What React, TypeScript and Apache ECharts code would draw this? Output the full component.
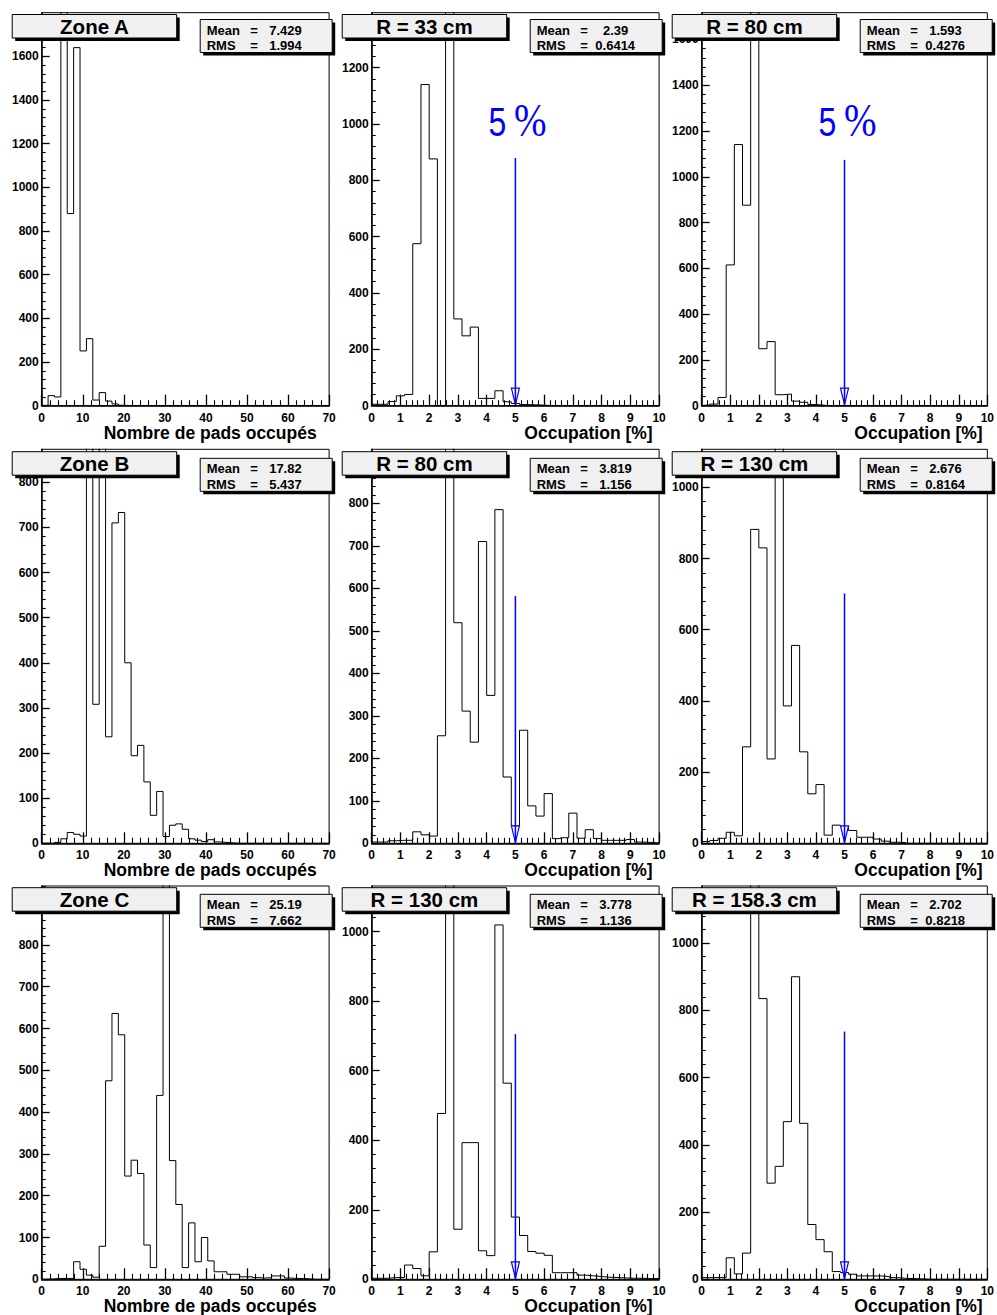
import React, { useEffect, useRef } from 'react';
import * as echarts from 'echarts';

// ---------------- DATA ----------------
// Histogram bin contents (pads: 45 bins over 0..70 ; occupation: 35 bins over 0..10)
const zoneA = [0, 46, 40, 1950, 880, 1640, 251, 307, 26, 60, 21, 8, 2, 0, 0, 0, 0, 0, 0, 0, 0, 0, 0, 0, 0, 0, 0, 0, 0, 0, 0, 0, 0, 0, 0, 0, 0, 0, 0, 0, 0, 0, 0, 0, 0];
const zoneB = [0, 0, 2, 10, 24, 20, 16, 920, 308, 980, 236, 710, 733, 400, 194, 217, 136, 62, 115, 15, 40, 43, 31, 10, 7, 4, 8, 3, 2, 1, 0, 0, 0, 0, 0, 0, 0, 0, 0, 0, 0, 0, 0, 0, 0];
const zoneC = [0, 1, 2, 2, 2, 42, 24, 10, 5, 79, 475, 636, 585, 247, 285, 253, 82, 28, 440, 1100, 284, 179, 28, 135, 42, 100, 44, 18, 18, 12, 12, 6, 6, 4, 3, 4, 8, 8, 3, 2, 2, 1, 0, 0, 0];
const r33 = [5, 5, 15, 35, 40, 575, 1140, 876, 0, 1600, 308, 248, 279, 26, 26, 53, 14, 8, 4, 3, 2, 0, 0, 0, 0, 0, 0, 0, 0, 0, 0, 0, 0, 0, 0];
const r80a = [3, 7, 36, 615, 1141, 876, 2000, 249, 280, 48, 51, 20, 15, 5, 2, 0, 0, 0, 0, 0, 0, 0, 0, 0, 0, 0, 0, 0, 0, 0, 0, 0, 0, 0, 0];
const r80b = [3, 3, 6, 7, 7, 27, 20, 17, 253, 1100, 519, 311, 238, 710, 348, 785, 156, 41, 266, 88, 64, 117, 11, 13, 71, 12, 32, 11, 7, 7, 7, 9, 3, 2, 1];
const r130b = [5, 8, 14, 31, 21, 271, 882, 830, 237, 1300, 386, 556, 257, 139, 165, 23, 51, 47, 36, 17, 17, 12, 6, 3, 2, 0, 0, 0, 0, 0, 0, 0, 0, 0, 0];
const r130c = [3, 3, 5, 5, 41, 31, 10, 79, 477, 1400, 144, 393, 393, 82, 68, 1019, 564, 179, 126, 80, 75, 69, 19, 19, 19, 12, 10, 8, 6, 5, 4, 3, 3, 2, 2];
const r158 = [5, 5, 5, 64, 16, 78, 1500, 835, 286, 336, 469, 900, 464, 163, 118, 82, 23, 20, 15, 10, 10, 10, 8, 5, 3, 2, 1, 0, 0, 0, 0, 0, 0, 0, 0];

const panelBins = [zoneA, r33, r80a, zoneB, r80b, r130b, zoneC, r130c, r158];
const panelTitles = ['Zone A', 'R = 33 cm', 'R = 80 cm', 'Zone B', 'R = 80 cm', 'R = 130 cm', 'Zone C', 'R = 130 cm', 'R = 158.3 cm'];
const meanValues = ['7.429', '2.39', '1.593', '17.82', '3.819', '2.676', '25.19', '3.778', '2.702'];
const rmsValues = ['1.994', '0.6414', '0.4276', '5.437', '1.156', '0.8164', '7.662', '1.136', '0.8218'];
const xMaxes = [70, 10, 10, 70, 10, 10, 70, 10, 10];
const xIntervals = [10, 1, 1, 10, 1, 1, 10, 1, 1];
const yMaxes = [1800, 1395, 1717, 873, 927, 1107, 941, 1131, 1170];
const yIntervals = [200, 200, 200, 100, 100, 200, 100, 200, 200];
const arrowX = 5;
const arrowTops = [null, 879, 1074, null, 582, 702, null, 705, 737];
const xTitles = ['Nombre de pads occupés', 'Occupation [%]', 'Occupation [%]'];
const percentLabelPanels = [1, 2];

// ---------------- LAYOUT ----------------
const COL_X = [41.7, 371.7, 701.7];
const PLOT_W = 287.4;
const ROW_TOP = [12.7, 449.3, 886];
const ROW_BOTTOM = [405.7, 843.3, 1279.3];
const TITLE_TOP = [14.5, 451.7, 887.7];
const STATS_TOP = [19.5, 458.3, 894.3];
const XTITLE_RIGHT = [316.7, 652.7, 982.7];

const FONT = '"Liberation Sans", Arial, Helvetica, sans-serif';
const BLUE = '#0000ff';

function steps(bins: number[], xmax: number) {
  const w = xmax / bins.length;
  const pts: number[][] = [[0, 0]];
  bins.forEach((v, i) => {
    pts.push([i * w, v]);
    pts.push([(i + 1) * w, v]);
  });
  pts.push([xmax, 0]);
  return pts;
}

function txt(x: number, y: number, text: string, font: string, align: string, vAlign: string, fill = '#000', extra: any = {}) {
  return {
    type: 'text',
    x,
    y,
    z: 100,
    silent: true,
    ...extra,
    style: {
      text,
      font,
      fill,
      align,
      verticalAlign: vAlign,
      textAlign: align,
      textVerticalAlign: vAlign,
    },
  };
}

function boxWithShadow(x: number, y: number, w: number, h: number) {
  return [
    { type: 'rect', z: 99, silent: true, shape: { x: x + 3, y: y + 3, width: w, height: h }, style: { fill: '#000' } },
    { type: 'rect', z: 99, silent: true, shape: { x, y, width: w, height: h }, style: { fill: '#f0f0f0', stroke: '#000', lineWidth: 1 } },
  ];
}

function buildOption() {
  const grid: any[] = [];
  const xAxis: any[] = [];
  const yAxis: any[] = [];
  const series: any[] = [];
  const graphics: any[] = [];

  for (let i = 0; i < 9; i++) {
    const row = Math.floor(i / 3);
    const col = i % 3;
    grid.push({
      left: COL_X[col],
      top: ROW_TOP[row],
      width: PLOT_W,
      height: ROW_BOTTOM[row] - ROW_TOP[row],
      show: true,
      borderColor: '#000',
      borderWidth: 1,
      backgroundColor: 'transparent',
    });
    xAxis.push({
      gridIndex: i,
      type: 'value',
      min: 0,
      max: xMaxes[i],
      interval: xIntervals[i],
      axisLine: { show: true, onZero: false, lineStyle: { color: '#000', width: 1.5 } },
      axisTick: { show: true, inside: true, length: 11, lineStyle: { color: '#000', width: 1.3 } },
      minorTick: { show: true, splitNumber: 5, length: 5.5, lineStyle: { color: '#000', width: 1.1 } },
      splitLine: { show: false },
      axisLabel: {
        show: true,
        margin: 6,
        color: '#000',
        fontFamily: FONT,
        fontWeight: 'bold',
        fontSize: 12,
        showMinLabel: true,
        showMaxLabel: true,
        formatter: (v: number) => String(v),
      },
    });
    const yTicks: number[] = [];
    for (let v = 0; v < yMaxes[i]; v += yIntervals[i]) yTicks.push(v);
    yAxis.push({
      gridIndex: i,
      type: 'value',
      min: 0,
      max: yMaxes[i],
      interval: yIntervals[i],
      axisLine: { show: true, onZero: false, lineStyle: { color: '#000', width: 1.5 } },
      axisTick: { show: true, inside: true, length: 8, customValues: yTicks, lineStyle: { color: '#000', width: 1.3 } },
      minorTick: { show: true, splitNumber: 5, length: 4, lineStyle: { color: '#000', width: 1.1 } },
      splitLine: { show: false },
      axisLabel: {
        show: true,
        margin: 3,
        color: '#000',
        fontFamily: FONT,
        fontWeight: 'bold',
        fontSize: 12,
        customValues: yTicks,
        formatter: (v: number) => String(v),
      },
    });
    series.push({
      type: 'line',
      xAxisIndex: i,
      yAxisIndex: i,
      data: steps(panelBins[i], xMaxes[i]),
      showSymbol: false,
      symbol: 'none',
      clip: true,
      silent: true,
      z: 2,
      lineStyle: { color: '#000', width: 1 },
    });
    const top = arrowTops[i];
    if (top !== null) {
      series.push({
        type: 'custom',
        xAxisIndex: i,
        yAxisIndex: i,
        data: [[arrowX, top]],
        silent: true,
        z: 5,
        renderItem: (_params: any, api: any) => {
          const tip = api.coord([api.value(0), 0]);
          const head = api.coord([api.value(0), api.value(1)]);
          return {
            type: 'group',
            children: [
              {
                type: 'polygon',
                shape: { points: [[tip[0] - 4, tip[1] - 17.5], [tip[0] + 4, tip[1] - 17.5], [tip[0], tip[1] - 1]] },
                style: { fill: '#fff', stroke: BLUE, lineWidth: 1.2 },
              },
              {
                type: 'line',
                shape: { x1: head[0], y1: head[1], x2: tip[0], y2: tip[1] - 1 },
                style: { stroke: BLUE, lineWidth: 1.5 },
              },
            ],
          };
        },
      });
    }

    // Title pave
    const tx = COL_X[col] - 29.5;
    const ty = TITLE_TOP[row];
    graphics.push(...boxWithShadow(tx, ty, 164.5, 23.5));
    graphics.push(txt(tx + 82.25, ty + 12.2, panelTitles[i], `bold 20.5px ${FONT}`, 'center', 'middle'));

    // Stats pave
    const sx = COL_X[col] + 158.5;
    const sy = STATS_TOP[row];
    graphics.push(...boxWithShadow(sx, sy, 132, 33));
    const sFont = `bold 13px ${FONT}`;
    const valRight = (s: string) => sx + 101.5 + 3.4 * (s.length - 5);
    graphics.push(txt(sx + 6.5, sy + 10.5, 'Mean', sFont, 'left', 'middle'));
    graphics.push(txt(sx + 50, sy + 10.5, '=', sFont, 'left', 'middle'));
    graphics.push(txt(valRight(meanValues[i]), sy + 10.5, meanValues[i], sFont, 'right', 'middle'));
    graphics.push(txt(sx + 6.5, sy + 26, 'RMS', sFont, 'left', 'middle'));
    graphics.push(txt(sx + 50, sy + 26, '=', sFont, 'left', 'middle'));
    graphics.push(txt(valRight(rmsValues[i]), sy + 26, rmsValues[i], sFont, 'right', 'middle'));

    // X axis title
    graphics.push(txt(XTITLE_RIGHT[col], ROW_BOTTOM[row] + 27, xTitles[col], `bold 17.5px ${FONT}`, 'right', 'middle'));
  }

  // "5 %" annotations
  percentLabelPanels.forEach((p) => {
    const col = p % 3;
    const dx = COL_X[col] - COL_X[1];
    graphics.push(txt(488.5 + dx, 122, '5', `normal 40px ${FONT}`, 'left', 'middle', BLUE, { scaleX: 0.8 }));
    graphics.push(txt(514 + dx, 120.5, '%', `normal 46px "Liberation Serif", "DejaVu Serif", serif`, 'left', 'middle', BLUE, { scaleX: 0.85 }));
  });

  return {
    animation: false,
    backgroundColor: '#fff',
    grid,
    xAxis,
    yAxis,
    series,
    graphic: { elements: graphics },
  };
}

export default function App() {
  const ref = useRef<HTMLDivElement>(null);
  useEffect(() => {
    if (!ref.current) return;
    const chart = echarts.init(ref.current, null, { renderer: 'svg', width: 997, height: 1315 });
    chart.setOption(buildOption() as any);
    return () => chart.dispose();
  }, []);
  return (
    <div
      ref={ref}
      style={{ position: 'absolute', left: 0, top: 0, width: 997, height: 1315, background: '#fff', overflow: 'hidden' }}
    />
  );
}
